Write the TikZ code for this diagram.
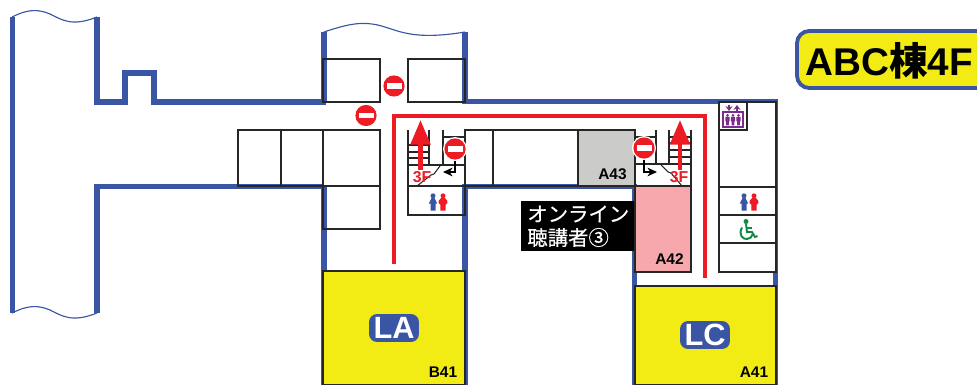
\documentclass[tikz,border=0pt]{standalone}
\usepackage{fontspec}
\setsansfont{Liberation Sans}
\newfontfamily\jpfont{Noto Sans CJK JP}
\newfontfamily\jpmedium[FakeBold=0.6]{Noto Sans CJK JP}
\usetikzlibrary{arrows.meta}
\definecolor{wallblue}{HTML}{3A55A4}
\definecolor{hallyellow}{HTML}{F3EC14}
\definecolor{signred}{HTML}{ED1C24}
\definecolor{roompink}{HTML}{F6A8AC}
\definecolor{roomgray}{HTML}{CBCBC9}
\definecolor{liftpurple}{HTML}{7B2D8B}
\definecolor{chairgreen}{HTML}{0E8A45}

\begin{document}
\begin{tikzpicture}[x=0.02cm,y=-0.02cm,>=Stealth,
    wall/.style={draw=wallblue,line width=3pt,miter limit=10},
    wave/.style={draw=wallblue,line width=0.65pt},
    room/.style={draw=black!85,line width=0.62pt},
    stair/.style={draw=black!85,line width=0.6pt},
    route/.style={draw=signred,line width=2.3pt},
    uparrow/.style={draw=signred,line width=2.4pt,-{Triangle[length=14pt,width=11pt]}},
    walkarrow/.style={draw=black,line width=0.6pt,-{Stealth[length=5.5pt,width=5pt]}},
    hall label/.style={fill=wallblue,rounded corners=4.5pt,text=white,minimum width=28.4pt,minimum height=15.9pt,inner sep=0pt,font=\sffamily\bfseries\fontsize{17.5}{20}\selectfont},
    room label/.style={font=\sffamily\bfseries\fontsize{8.8}{10}\selectfont,inner sep=0pt},
    floor label/.style={font=\sffamily\bfseries\fontsize{9}{10}\selectfont,text=signred,inner sep=0pt},
    online label/.style={text=white,anchor=west,inner sep=0pt,font=\jpmedium\fontsize{11.6}{12}\selectfont},
    noentry/.pic={
      \fill[white] (0,0) circle [radius=12];
      \fill[signred] (0,0) circle [radius=10.6];
      \fill[white] (-7.5,-2.6) rectangle (7.5,2.6);
    },
    man/.pic={
      \fill[wallblue] (0,-6.2) circle [radius=2.5];
      \fill[wallblue] (-1.6,-3.8) -- (1.6,-3.8) -- (4.2,1.5) -- (2.5,1.5) -- (2.5,8.5) -- (-2.5,8.5) -- (-2.5,1.5) -- (-4.2,1.5) -- cycle;
    },
    woman/.pic={
      \fill[signred] (0,-6.2) circle [radius=2.5];
      \fill[signred] (-2.2,-3.8) -- (2.2,-3.8) -- (4.4,-1) -- (4.4,1) -- (2.7,2.6) -- (2.7,8.5) -- (-2.7,8.5) -- (-2.7,2.6) -- (-4.4,1) -- (-4.4,-1) -- cycle;
    },
    liftman/.pic={
      \fill[liftpurple] (0,-4.6) circle [radius=1.5];
      \fill[liftpurple] (-2.2,-3) -- (2.2,-3) -- (2.2,1.5) -- (1.4,1.5) -- (1.4,5.5) -- (-1.4,5.5) -- (-1.4,1.5) -- (-2.2,1.5) -- cycle;
    }]

  \useasboundingbox (0,0) rectangle (977,385);

  % left wing
  \draw[wall] (12.5,17) -- (12.5,313);
  \draw[wall] (97,17) -- (97,102) -- (125,102) -- (125,73) -- (154,73) -- (154,102) -- (326,102);
  \draw[wall] (97,313) -- (97,186.5) -- (324,186.5);
  \draw[wave] (12,17) .. controls (28,9) and (38,9) .. (50,14) .. controls (62,20) and (72,27) .. (97,17);
  \draw[wave] (12,313) .. controls (28,305) and (38,305) .. (50,310) .. controls (62,316) and (72,323) .. (97,313);

  % centre wing
  \draw[wall] (324,32) -- (324,102);
  \draw[wall] (324,186) -- (324,385);
  \draw[wall] (465,32) -- (465,101.5) -- (775.5,101.5) -- (775.5,385);
  \draw[wall] (465,385) -- (465,186.5) -- (634.5,186.5) -- (634.5,385);
  \draw[wave] (324,32) .. controls (345,25) and (358,22) .. (372,24) .. controls (395,27) and (405,42) .. (465,32);

  % rooms
  \draw[room] (323,59) rectangle (380,102);
  \draw[room] (408,59) rectangle (465,102);
  \draw[room] (238,130) rectangle (281,186);
  \draw[room] (281,130) rectangle (323,186);
  \draw[room] (323,130) rectangle (380,186);
  \draw[room] (323,186) rectangle (380,229);
  \draw[room] (408,186) rectangle (465,215);
  \draw[room] (465,130) rectangle (493,186);
  \draw[room] (493,130) rectangle (578,186);
  \draw[room,fill=roomgray] (578,130) rectangle (635,186);
  \draw[room,fill=roompink] (635,186) rectangle (691,272);
  \draw[room,fill=white] (719,102) rectangle (776,272);
  \draw[room] (719,187) -- (776,187);
  \draw[room] (719,215) -- (776,215);
  \draw[room] (719,243) -- (776,243);
  \draw[room] (719,102) rectangle (747,130);
  \draw[room,fill=hallyellow] (323,271) rectangle (465,385);
  \draw[room,fill=hallyellow] (635,286) rectangle (776,385);

  % stairs on the left
  \draw[stair] (408,186) -- (408,130);
  \draw[stair] (429,130) -- (429,165);
  \draw[stair] (443,130) -- (443,165);
  \draw[stair] (408,165) -- (465,165);
  \draw[stair] (465,130) -- (465,186);
  \draw[stair] (443,137) -- (465,137);
  \foreach \y in {145,152,158}
    \draw[stair] (408,\y) -- (429,\y);
  \draw[stair] (440,166) -- (434,174) -- (431,175) -- (417,186);

  % stairs on the right
  \draw[stair] (635,130) -- (635,186);
  \draw[stair] (656,130) -- (656,164);
  \draw[stair] (669,130) -- (669,164);
  \draw[stair] (691,130) -- (691,186);
  \draw[stair] (635,164) -- (691,164);
  \draw[stair] (635,137) -- (656,137);
  \foreach \y in {137,143,150,157}
    \draw[stair] (669,\y) -- (691,\y);
  \draw[stair] (661,165) -- (668,172) -- (671,173) -- (682,186);

  % route
  \coordinate (routeL) at (394,264);
  \coordinate (cornerL) at (394,116);
  \coordinate (cornerR) at (705,116);
  \coordinate (routeR) at (705,278);
  \draw[route] (routeL) -- (cornerL) -- (cornerR) -- (routeR);

  \coordinate (upL) at (420.5,170);
  \coordinate (tipL) at (420.5,120);
  \coordinate (upR) at (680,170);
  \coordinate (tipR) at (680,120);
  \draw[uparrow] (upL) -- (tipL);
  \draw[uparrow] (upR) -- (tipR);

  \coordinate (walkL) at (455,160);
  \coordinate (walkLtip) at (443,172);
  \coordinate (walkR) at (644,160);
  \coordinate (walkRtip) at (657,172);
  \draw[walkarrow] (walkL) |- (walkLtip);
  \draw[walkarrow] (walkR) |- (walkRtip);

  \node[floor label] (floorL) at (422,177) {3F};
  \node[floor label] (floorR) at (679,177) {3F};

  % signs
  \pic at (394,86) {noentry};
  \pic at (366,115.5) {noentry};
  \pic at (455,149) {noentry};
  \pic at (644,148) {noentry};

  % toilets
  \pic at (433,202) {man};
  \pic at (443,202) {woman};
  \pic at (744,202) {man};
  \pic at (754,202) {woman};

  % wheelchair
  \fill[chairgreen] (746,221.5) circle [radius=2.5];
  \draw[chairgreen,line width=1.1pt] (746,224) -- (747,232) -- (752,232) -- (755,237) -- (757.5,236);
  \draw[chairgreen,line width=1.1pt] (746.5,228) -- (752,228);
  \draw[chairgreen,line width=1.1pt] (742,227.5) .. controls (738,235) and (743,239.5) .. (747,239) .. controls (750,238.7) and (752,237) .. (752.5,234.5);

  % lift
  \draw[liftpurple,line width=0.6pt] (723,112) rectangle (743,127);
  \foreach \x in {727.5,733,738.5}
    \pic at (\x,120) {liftman};
  \draw[liftpurple,line width=0.7pt,-{Stealth[length=2.8pt,width=4pt]}] (729,105) -- (729,111);
  \draw[liftpurple,line width=0.7pt,-{Stealth[length=2.8pt,width=4pt]}] (737,111) -- (737,105);

  % labels
  \node[hall label] (hallLA) at (394,328) {LA};
  \node[hall label] (hallLC) at (705,335) {LC};
  \node[room label] (roomB41) at (443,372) {B41};
  \node[room label] (roomA41) at (754,372) {A41};
  \node[room label] (roomA42) at (669.5,259) {A42};
  \node[room label] (roomA43) at (612.5,174) {A43};

  \fill[black] (521,201) rectangle (634,251);
  \node[online label] (online) at (527,214) {オンライン};
  \node[online label] (viewers) at (527,237.5) {聴講者③};

  % title
  \draw[draw=wallblue,fill=hallyellow,line width=2.2pt,rounded corners=7pt] (797,31) rectangle (990,88);
  \node[inner sep=0pt,font=\sffamily\bfseries\fontsize{22}{24}\selectfont] (title) at (889,60.5) {ABC{\jpfont\bfseries 棟}4F};

\end{tikzpicture}
\end{document}
